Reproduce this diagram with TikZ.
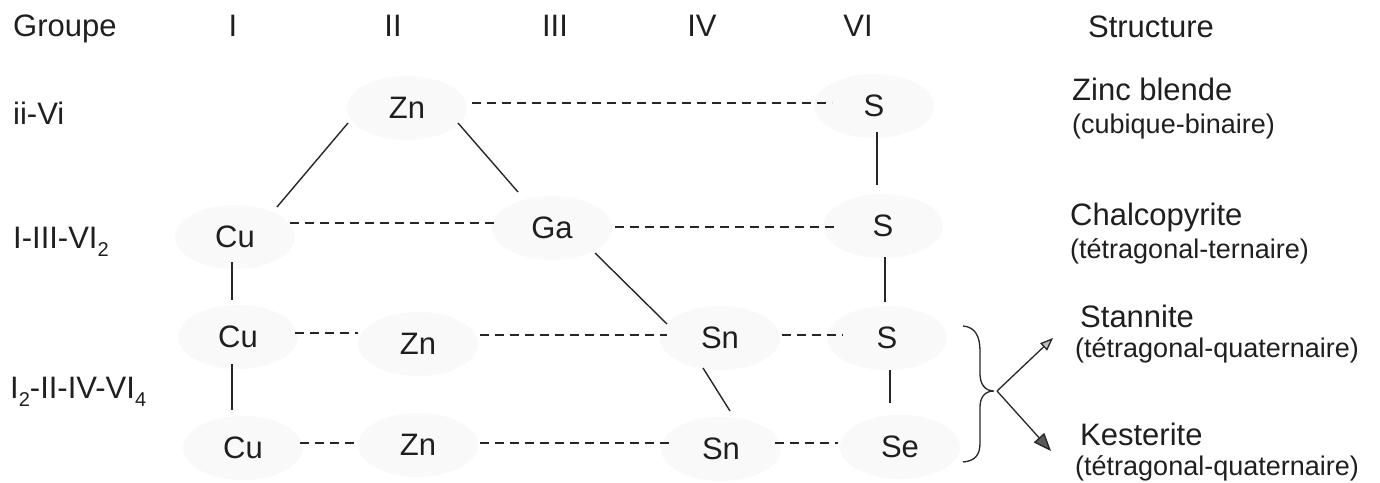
\documentclass[tikz,border=0pt]{standalone}
\usepackage{fontspec}
\setmainfont{Liberation Sans}
\usetikzlibrary{arrows.meta,shapes.geometric}
\newcommand\lowsub[1]{\raisebox{-8pt}{\fontsize{20}{20}\selectfont #1}}
\begin{document}
\begin{tikzpicture}[x=1pt,y=-1pt,
  lbl/.style={anchor=base west,inner sep=0pt,text=black!88,font=\fontsize{31}{36}\selectfont},
  hdr/.style={anchor=base,inner sep=0pt,text=black!88,font=\fontsize{31}{36}\selectfont},
  sub/.style={anchor=base west,inner sep=0pt,text=black!88,font=\fontsize{27}{32}\selectfont},
  elem/.style={ellipse,fill=black!2.5,inner sep=0pt,minimum width=120pt,minimum height=64pt,
               text=black!88,font=\fontsize{31}{36}\selectfont},
  bond/.style={line width=1.4pt,draw=black!85},
  link/.style={line width=1.4pt,draw=black!85,dash pattern=on 9pt off 6pt},
  pointer/.style={line width=1.3pt,draw=black!85},
]
\useasboundingbox (0,0) rectangle (1380,482);

% column headers
\node[lbl] (grp)  at (13,36)  {Groupe};
\node[hdr] (gI)   at (233,36) {I};
\node[hdr] (gII)  at (393,36) {II};
\node[hdr] (gIII) at (555,36) {III};
\node[hdr] (gIV)  at (702,36) {IV};
\node[hdr] (gVI)  at (858,36) {VI};
\node[hdr] (str)  at (1151,37) {Structure};

% row labels
\node[lbl] (r1) at (13,124) {ii-Vi};
\node[lbl] (r2) at (13,248) {I-III-VI\lowsub{2}};
\node[lbl] (r3) at (10,398) {I\lowsub{2}-II-IV-VI\lowsub{4}};

% elements
\node[elem] (Zn1) at (407,108) {Zn};
\node[elem] (S1)  at (874,106) {S};
\node[elem] (Cu2) at (235,237) {Cu};
\node[elem] (Ga)  at (552,228) {Ga};
\node[elem] (S2)  at (883,226) {S};
\node[elem] (Cu3) at (238,337) {Cu};
\node[elem] (Zn3) at (418,344) {Zn};
\node[elem] (Sn3) at (720,338) {Sn};
\node[elem] (S3)  at (887,338) {S};
\node[elem] (Cu4) at (243,448) {Cu};
\node[elem] (Zn4) at (418,445) {Zn};
\node[elem] (Sn4) at (721,449) {Sn};
\node[elem] (Se)  at (900,447) {Se};

% structure names
\node[lbl] (zb)  at (1072,100) {Zinc blende};
\node[sub] (zbs) at (1072,133) {(cubique-binaire)};
\node[lbl] (ch)  at (1070,225) {Chalcopyrite};
\node[sub] (chs) at (1070,258) {(tétragonal-ternaire)};
\node[lbl] (st)  at (1080,327) {Stannite};
\node[sub] (sts) at (1075,357) {(tétragonal-quaternaire)};
\node[lbl] (ke)  at (1080,445) {Kesterite};
\node[sub] (kes) at (1075,475) {(tétragonal-quaternaire)};

% solid bonds
\draw[bond] ([shift={(-59,15)}]Zn1.center) -- ([shift={(42,-30)}]Cu2.center);
\draw[bond] ([shift={(51,15)}]Zn1.center)  -- ([shift={(-34,-36)}]Ga.center);
\draw[bond] ([shift={(43,25)}]Ga.center)   -- ([shift={(-53,-14)}]Sn3.center);
\draw[bond] ([shift={(-17,30)}]Sn3.center) -- ([shift={(9,-38)}]Sn4.center);
\draw[bond] ([shift={(-3,25)}]Cu2.center)  -- ([shift={(-6,-37)}]Cu3.center);
\draw[bond] ([shift={(-6,27)}]Cu3.center)  -- ([shift={(-11,-38)}]Cu4.center);
\draw[bond] ([shift={(3,26)}]S1.center)    -- ([shift={(-6,-41)}]S2.center);
\draw[bond] ([shift={(2,31)}]S2.center)    -- ([shift={(-2,-36)}]S3.center);
\draw[bond] ([shift={(3,32)}]S3.center)    -- ([shift={(-10,-44)}]Se.center);

% dashed links
\draw[link] ([shift={(65,-5)}]Zn1.center)  -- ([shift={(-42,-3)}]S1.center);
\draw[link] ([shift={(55,-14)}]Cu2.center) -- ([shift={(-57,-5)}]Ga.center);
\draw[link] ([shift={(63,-1)}]Ga.center)   -- ([shift={(-48,1)}]S2.center);
\draw[link] ([shift={(57,-4)}]Cu3.center)  -- ([shift={(-60,-11)}]Zn3.center);
\draw[link] ([shift={(62,-9)}]Zn3.center)  -- ([shift={(-53,-3)}]Sn3.center);
\draw[link] ([shift={(62,-3)}]Sn3.center)  -- ([shift={(-44,-3)}]S3.center);
\draw[link] ([shift={(57,-5)}]Cu4.center)  -- ([shift={(-61,-2)}]Zn4.center);
\draw[link] ([shift={(62,-2)}]Zn4.center)  -- ([shift={(-51,-6)}]Sn4.center);
\draw[link] ([shift={(54,-6)}]Sn4.center)  -- ([shift={(-62,-4)}]Se.center);

% brace grouping the quaternary rows, with its two arrows
\draw[pointer] (963,326) .. controls (975,327) and (980,336) .. (980,351)
  -- (980,374) .. controls (980,384) and (985,391) .. (994,391)
  .. controls (985,391) and (980,397) .. (980,407)
  -- (980,443) .. controls (980,455) and (975,461) .. (963,462);
\coordinate (brTip) at (997,391);
\coordinate (stTip) at (1053,338);
\coordinate (keTip) at (1051,451);
\draw[pointer,-{Triangle[length=13pt,width=10pt,fill=black!25]}] (brTip) -- (stTip);
\draw[pointer,-{Triangle[length=18pt,width=14pt,fill=black!65]}] (brTip) -- (keTip);
\end{tikzpicture}
\end{document}
